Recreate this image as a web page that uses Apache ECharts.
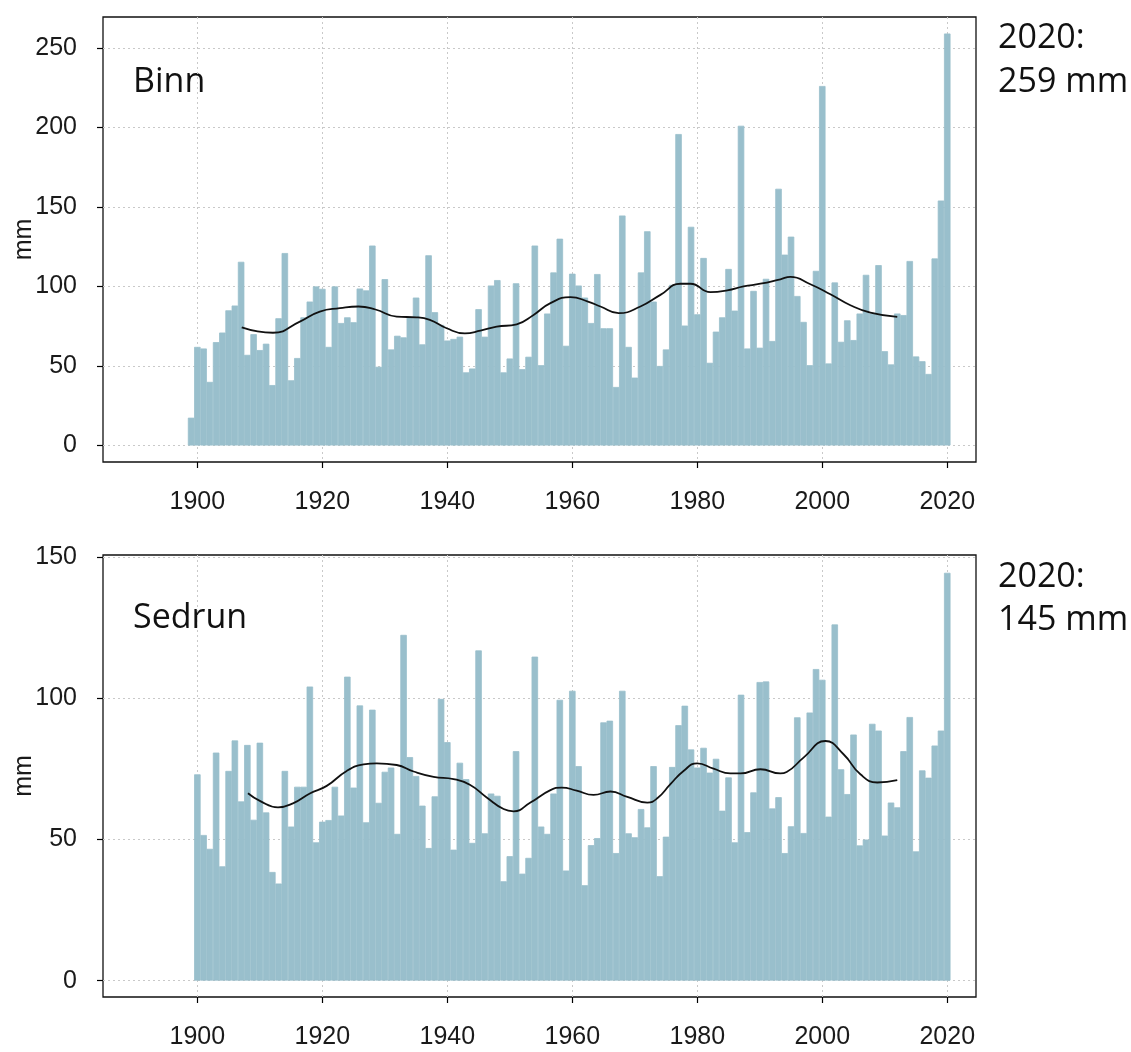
<!DOCTYPE html>
<html><head><meta charset="utf-8">
<script src="https://cdn.jsdelivr.net/npm/echarts@6/dist/echarts.min.js"></script>
<style>html,body{margin:0;padding:0;background:#fff}#c{width:1131px;height:1052px}</style>
</head><body><div id="c"></div>
<script>
// ---- Data ----
const binnStartYear = 1899;
const binnValues = [
  17.5,
  62, 61, 40, 65, 71, 85, 88, 115.5, 57, 70,            // 1900-1909
  60, 64, 38, 80, 121, 41, 55, 80.6, 90.5, 100,         // 1910-1919
  98.5, 62, 100, 77, 80.6, 77.5, 98.7, 97.5, 125.7, 49.5, // 1920-1929
  104.6, 60.4, 69, 68, 81, 93, 63.6, 119.6, 83.8, 75.8, // 1930-1939
  66, 67, 68.4, 46, 48.4, 85.7, 68.4, 100.6, 104, 46,   // 1940-1949
  54.7, 102, 48, 55.8, 125.7, 50.5, 83, 108.8, 130, 62.7, // 1950-1959
  108, 100.6, 93, 77, 107.8, 73.7, 73.7, 36.8, 144.6, 62, // 1960-1969
  42.7, 108.8, 134.7, 90.5, 50, 60.4, 101, 195.8, 75.4, 137.5, // 1970-1979
  82.5, 117.9, 52, 71.6, 80.6, 111, 84.8, 201, 61, 97.2, // 1980-1989
  61.5, 104.8, 65.7, 161.4, 120, 131.3, 94, 77.7, 50.5, 109.8, // 1990-1999
  226, 51.6, 102.5, 65.2, 78.7, 66.3, 83, 107.3, 83, 113.4, // 2000-2009
  59.3, 51, 83, 82, 116, 56, 53, 45, 117.6, 154,        // 2010-2019
  259                                                   // 2020
];
const sedrunStartYear = 1900;
const sedrunValues = [
  73.1, 51.6, 46.7, 80.8, 40.5, 74.3, 85.1, 63.5, 83.5, 57,     // 1900-1909
  84.3, 59.6, 38.5, 34.4, 74.3, 54.6, 68.7, 68.7, 104.2, 49,    // 1910-1919
  56.3, 56.9, 68.7, 58.5, 107.7, 68.4, 97.5, 56.1, 96, 63,      // 1920-1929
  74, 75.5, 52, 122.5, 79.2, 72.5, 62, 47, 65.3, 99.8,          // 1930-1939
  84.5, 46.4, 77.2, 71.4, 48.8, 117, 52.2, 66.3, 65.5, 35.2,    // 1940-1949
  44.1, 81.3, 37.9, 43.5, 114.8, 54.6, 52, 66.3, 99.5, 39,      // 1950-1959
  102.7, 76, 33.8, 48, 50.5, 91.5, 92.1, 45.2, 102.7, 52.2,     // 1960-1969
  50.8, 60.8, 54.3, 76, 37, 51, 75.7, 90.5, 97.4, 81.9,         // 1970-1979
  75.5, 82.5, 73.7, 78.6, 60.2, 72, 49, 101.3, 52.6, 66.7,      // 1980-1989
  105.8, 106, 61, 65, 45.2, 54.7, 93.3, 52.3, 95, 110.4,        // 1990-1999
  106.6, 58.1, 126.2, 74.9, 66.1, 87.2, 47.9, 50, 91, 88.6,     // 2000-2009
  51.4, 63.1, 61.4, 81.3, 93.4, 45.8, 74.5, 71.9, 83.3, 88.6,   // 2010-2019
  144.5                                                         // 2020
];
const binnTrendYears  = [1907.1,1912.1,1916.4,1919.6,1922.8,1925.8,1928.5,1931.9,1935.1,1937.2,1939.9,1942.8,1945.3,1947.9,1951.1,1953.8,1956.5,1959.7,1962.5,1964.5,1967.4,1970.9,1974.1,1977.3,1978.9,1982.1,1984.8,1987.4,1990.1,1993.3,1994.9,1998.1,2001.3,2004.5,2007.7,2012.0];
const binnTrendValues = [74.3,70.9,77.9,84.2,86.3,87.4,85.5,81,80.6,79,73.7,70.5,72.2,74.7,76.2,82.1,89.5,93.3,90.5,87.4,83.2,87.4,94.7,101.7,101.7,96.4,97.5,100,101.7,104.5,106,101.4,95.1,88.2,83.5,80.8];
const sedrunTrendYears  = [1908.1,1910,1912.9,1915.3,1918,1920.7,1923.9,1926.6,1928.7,1931.9,1934.6,1937.8,1941,1943.6,1946.3,1949,1950.6,1953.3,1956.5,1958.3,1960.7,1963.4,1966.1,1968.8,1972,1973.6,1975.7,1977.8,1980,1982.6,1985.3,1986.9,1990.1,1993.3,1994.3,1997,2000.5,2003.4,2006.1,2008.8,2012];
const sedrunTrendValues = [66.4,63.7,61.4,62.8,66.3,69,74.3,76.6,77,76.4,74.1,72.2,71.4,69.4,64.9,60.8,60,63.1,67.5,68.4,67.3,65.8,67,65.1,63.1,64.6,69.6,74.3,77,75.1,73.4,73.4,74.9,73.4,73.9,79,84.9,80.2,73.1,70.2,71];
const xTickValues = [1900, 1920, 1940, 1960, 1980, 2000, 2020];
const binnYTicks = [0, 50, 100, 150, 200, 250];
const sedrunYTicks = [0, 50, 100, 150];
const stationNames = ['Binn', 'Sedrun'];
const noteLines = [['2020:', '259 mm'], ['2020:', '145 mm']];

// ---- Build ----
const binnBars = binnValues.map((v, i) => [binnStartYear + i, v]);
const sedrunBars = sedrunValues.map((v, i) => [sedrunStartYear + i, v]);
const binnTrend = binnTrendYears.map((y, i) => [y, binnTrendValues[i]]);
const sedrunTrend = sedrunTrendYears.map((y, i) => [y, sedrunTrendValues[i]]);

const labelFont = { fontSize: 25, fontFamily: 'Liberation Sans', color: '#1a1a1a' };
const splitStyle = { show: true, lineStyle: { type: [2, 3], color: '#c9c9c9', width: 1 } };

function xAxis(gi) {
  return {
    type: 'value', gridIndex: gi, min: 1884.9, max: 2024.6,
    axisLine: { show: false, onZero: false },
    axisTick: { show: true, length: 6, customValues: xTickValues, lineStyle: { color: '#000', width: 1.2 } },
    axisLabel: Object.assign({ customValues: xTickValues, margin: 28, formatter: v => String(v) }, labelFont),
    splitLine: splitStyle
  };
}
function yAxis(gi, min, max, ticks) {
  return {
    type: 'value', gridIndex: gi, min: min, max: max,
    name: 'mm', nameLocation: 'middle', nameGap: 66, nameMoveOverlap: false,
    nameTextStyle: { fontSize: 25, fontFamily: 'Liberation Sans', color: '#1a1a1a' },
    axisLine: { show: false, onZero: false },
    axisTick: { show: true, length: 6, customValues: ticks, lineStyle: { color: '#000', width: 1.2 } },
    axisLabel: Object.assign({ customValues: ticks, margin: 26, formatter: v => String(v) }, labelFont),
    splitLine: splitStyle
  };
}
const barColor = '#99bfcc';
function textEl(txt, x, y) {
  return { type: 'text', x: x, y: y, silent: true,
    style: { text: txt, fontSize: 34, fontFamily: 'Open Sans', fill: '#111', align: 'left', verticalAlign: 'middle' } };
}
const gridBase = { left: 103, width: 873, show: true, borderColor: '#111', borderWidth: 1.3,
  backgroundColor: 'transparent', containLabel: false, outerBoundsMode: 'none' };
const barStyle = { color: barColor, borderColor: barColor, borderWidth: 0.8 };

const chart = echarts.init(document.getElementById('c'), null, { renderer: 'canvas' });
chart.setOption({
  animation: false,
  backgroundColor: '#fff',
  grid: [
    Object.assign({ top: 17, height: 445 }, gridBase),
    Object.assign({ top: 555, height: 442 }, gridBase)
  ],
  xAxis: [xAxis(0), xAxis(1)],
  yAxis: [yAxis(0, -10.36, 269.36, binnYTicks), yAxis(1, -5.8, 150.8, sedrunYTicks)],
  series: [
    { type: 'bar', xAxisIndex: 0, yAxisIndex: 0, data: binnBars, barWidth: '104%', itemStyle: barStyle, silent: true },
    { type: 'line', xAxisIndex: 0, yAxisIndex: 0, data: binnTrend, smooth: true, symbol: 'none', lineStyle: { color: '#111', width: 1.8 }, silent: true },
    { type: 'bar', xAxisIndex: 1, yAxisIndex: 1, data: sedrunBars, barWidth: '104%', itemStyle: barStyle, silent: true },
    { type: 'line', xAxisIndex: 1, yAxisIndex: 1, data: sedrunTrend, smooth: true, symbol: 'none', lineStyle: { color: '#111', width: 1.8 }, silent: true }
  ],
  graphic: [
    textEl(stationNames[0], 133, 82),
    textEl(stationNames[1], 133, 618),
    textEl(noteLines[0][0], 998, 38),
    textEl(noteLines[0][1], 998, 82),
    textEl(noteLines[1][0], 998, 577),
    textEl(noteLines[1][1], 998, 620)
  ]
});
</script>
</body></html>
